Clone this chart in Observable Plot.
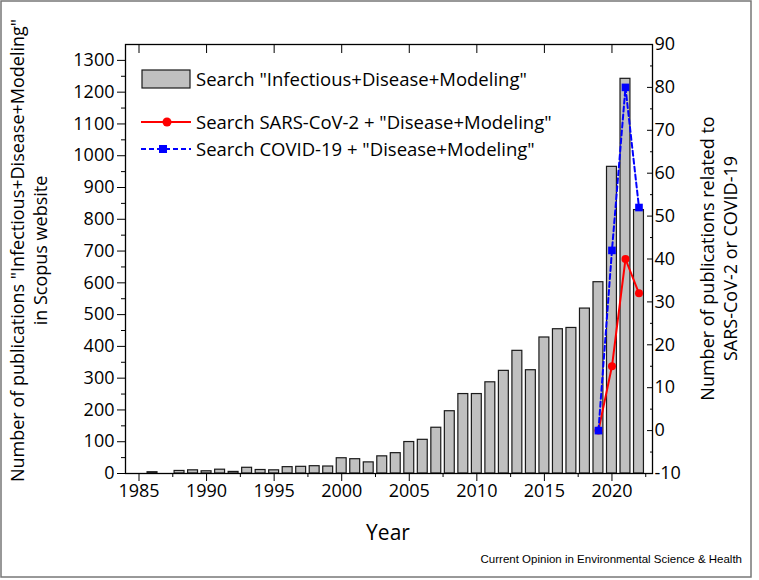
<!DOCTYPE html>
<html><head><meta charset="utf-8">
<script src="https://cdn.jsdelivr.net/npm/d3@7"></script>
<script src="https://cdn.jsdelivr.net/npm/@observablehq/plot@0.6"></script>
<style>
body{margin:0;background:#fff}
#chart{position:relative;width:759px;height:580px}
</style>
</head><body><div id="chart"></div>
<script>
// ---- data ----
const years = [1986,1988,1989,1990,1991,1992,1993,1994,1995,1996,1997,1998,1999,2000,2001,2002,2003,2004,2005,2006,2007,2008,2009,2010,2011,2012,2013,2014,2015,2016,2017,2018,2019,2020,2021,2022];
const counts = [4,8,10,7,12,5,18,11,10,20,21,23,22,48,45,35,54,64,99,106,144,196,250,250,287,323,386,325,428,454,458,519,602,965,1242,829];
const covidYears = [2019,2020,2021,2022];
const sarsCounts = [0,15,40,32];
const covidCounts = [0,42,80,52];
const xTicks = [1985,1990,1995,2000,2005,2010,2015,2020];
const leftTicks = [0,100,200,300,400,500,600,700,800,900,1000,1100,1200,1300];
const rightTicks = [-10,0,10,20,30,40,50,60,70,80,90];
const seriesNames = ['Search "Infectious+Disease+Modeling"','Search SARS-CoV-2 + "Disease+Modeling"','Search COVID-19 + "Disease+Modeling"'];

// ---- derived tables ----
const bars = years.map((y,i)=>({year:y,count:counts[i]}));
const LMAX = 1350, RMIN = -10, RMAX = 90;
const toLeft = r => (r - RMIN) / (RMAX - RMIN) * LMAX;
const fromLeft = v => v / LMAX * (RMAX - RMIN) + RMIN;
const sars = covidYears.map((y,i)=>({year:y,v:sarsCounts[i]}));
const covid = covidYears.map((y,i)=>({year:y,v:covidCounts[i]}));
const minorX = xTicks.map(t=>t+2.5).filter(t=>t<2023);
const minorLeft = leftTicks.map(t=>t+50).filter(t=>t<LMAX);
const minorRight = rightTicks.map(t=>t+5).filter(t=>t<RMAX);

const FONT = "Open Sans";
const FS = 18;

const plot = Plot.plot({
  width: 759, height: 580,
  marginLeft: 125, marginRight: 107, marginTop: 44, marginBottom: 107,
  x: {domain: [1984, 2023]},
  y: {domain: [0, LMAX]},
  style: {fontFamily: FONT, fontSize: FS + "px", color: "#000", background: "#fff"},
  marks: [
    Plot.rectY(bars, {x1: d=>d.year-0.5, x2: d=>d.year+0.5, y: "count", insetLeft: 1.8, insetRight: 1.8, fill: "#c0c0c0", stroke: "#1a1a1a", strokeWidth: 1.2}),
    Plot.line(sars, {x: "year", y: d=>toLeft(d.v), stroke: "#ff0000", strokeWidth: 2}),
    Plot.dot(sars, {x: "year", y: d=>toLeft(d.v), r: 4, fill: "#ff0000", stroke: "none"}),
    Plot.line(covid, {x: "year", y: d=>toLeft(d.v), stroke: "#0000ff", strokeWidth: 2, strokeDasharray: "5,3"}),
    Plot.dot(covid, {x: "year", y: d=>toLeft(d.v), symbol: "square", r: 4.3, fill: "#0000ff", stroke: "none"}),
    Plot.frame({stroke: "#000", strokeWidth: 1.3}),
    Plot.axisX({anchor: "bottom", ticks: xTicks, tickSize: 8, tickPadding: 3, tickFormat: d=>String(d), label: null, fontSize: FS}),
    Plot.axisX({anchor: "bottom", ticks: minorX, tickSize: 4, tickFormat: ()=>"", label: null}),
    Plot.axisX({anchor: "top", ticks: xTicks, tickSize: -8, tickFormat: ()=>"", label: null}),
    Plot.axisY({anchor: "left", ticks: leftTicks, tickSize: 8, tickPadding: 3, tickFormat: d=>String(d), label: null, fontSize: FS}),
    Plot.axisY({anchor: "left", ticks: minorLeft, tickSize: 4, tickFormat: ()=>"", label: null}),
    Plot.axisY({anchor: "right", ticks: rightTicks.map(toLeft), tickSize: -6, tickPadding: 8, tickFormat: v=>String(Math.round(fromLeft(v))), label: null, fontSize: FS}),
    Plot.axisY({anchor: "right", ticks: minorRight.map(toLeft), tickSize: -3, tickFormat: ()=>"", label: null})
  ]
});
document.getElementById("chart").appendChild(plot);

// ---- annotations (titles, legend, caption, border) ----
const svg = d3.select(plot);
const g = svg.append("g").attr("font-family", FONT).attr("fill", "#000");
const cy = (44 + 473) / 2;
g.append("text").attr("transform", `translate(24,${cy-8}) rotate(-90)`).attr("text-anchor","middle").attr("font-size",FS)
  .text('Number of publications "Infectious+Disease+Modeling"');
g.append("text").attr("transform", `translate(47,${cy-8}) rotate(-90)`).attr("text-anchor","middle").attr("font-size",FS)
  .text('in Scopus website');
g.append("text").attr("transform", `translate(714,${cy}) rotate(-90)`).attr("text-anchor","middle").attr("font-size",FS)
  .text('Number of publications related to');
g.append("text").attr("transform", `translate(737,${cy}) rotate(-90)`).attr("text-anchor","middle").attr("font-size",FS)
  .text('SARS-CoV-2 or COVID-19');
g.append("text").attr("x", 388).attr("y", 540).attr("text-anchor","middle").attr("font-size",21).text("Year");
g.append("text").attr("x", 742).attr("y", 563).attr("text-anchor","end").attr("font-size",11.5)
  .attr("font-family","Liberation Sans, Arial, sans-serif").text("Current Opinion in Environmental Science & Health");

// legend
const LFS = 18.5;
const lg = g.append("g").attr("text-anchor","start");
lg.append("rect").attr("x",142).attr("y",70).attr("width",48).attr("height",18).attr("fill","#c0c0c0").attr("stroke","#1a1a1a").attr("stroke-width",1.2);
lg.append("text").attr("x",196).attr("y",86).attr("text-anchor","start").attr("font-size",LFS).text(seriesNames[0]);
lg.append("line").attr("x1",141).attr("x2",191).attr("y1",122).attr("y2",122).attr("stroke","#f00").attr("stroke-width",2);
lg.append("circle").attr("cx",167).attr("cy",122).attr("r",4.5).attr("fill","#f00");
lg.append("text").attr("x",196).attr("y",129).attr("text-anchor","start").attr("font-size",LFS).text(seriesNames[1]);
lg.append("line").attr("x1",141).attr("x2",191).attr("y1",149).attr("y2",149).attr("stroke","#00f").attr("stroke-width",2).attr("stroke-dasharray","5,3");
lg.append("rect").attr("x",159).attr("y",145).attr("width",8).attr("height",8).attr("fill","#00f");
lg.append("text").attr("x",196).attr("y",156).attr("text-anchor","start").attr("font-size",LFS).text(seriesNames[2]);

svg.append("rect").attr("x",1).attr("y",1).attr("width",750).attr("height",576).attr("fill","none").attr("stroke","#777").attr("stroke-width",1.5);
</script>
</body></html>
